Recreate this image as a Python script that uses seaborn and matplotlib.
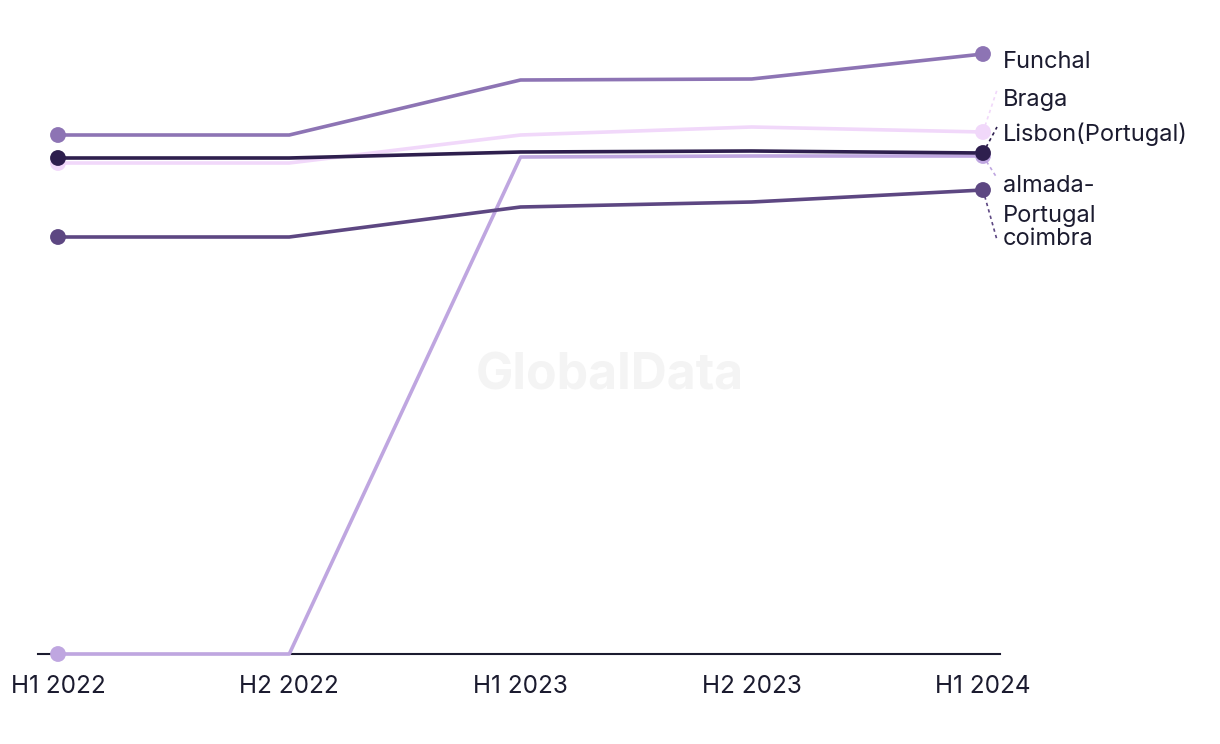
import matplotlib
matplotlib.use("Agg")
import matplotlib.pyplot as plt
import seaborn as sns
import pandas as pd

periods = ["H1 2022", "H2 2022", "H1 2023", "H2 2023", "H1 2024"]
funchal = [519, 519, 574, 575, 600]
braga = [491, 491, 519, 527, 522]
lisbon = [496, 496, 502, 503, 501]
almada = [0, 0, 497, 498, 498]
coimbra = [417, 417, 447, 452, 464]

series_names = ["Funchal", "Braga", "almada-\nPortugal", "coimbra", "Lisbon(Portugal)"]
series_values = [funchal, braga, almada, coimbra, lisbon]
colors = {
    "Funchal": "#8D74B4",
    "Braga": "#F1D8FA",
    "almada-\nPortugal": "#BFA6E0",
    "coimbra": "#5D4782",
    "Lisbon(Portugal)": "#2E1F4E",
}

rows = []
for name, vals in zip(series_names, series_values):
    for i, (p, v) in enumerate(zip(periods, vals)):
        rows.append({"series": name, "x": i, "period": p, "value": v})
df = pd.DataFrame(rows)

sns.set_theme(style="white")
plt.rcParams["font.family"] = ["Inter", "DejaVu Sans"]
text_color = "#1B1B2F"

fig = plt.figure(figsize=(12.2, 7.44), dpi=100)
ax = fig.add_axes([38 / 1220, 90 / 744, (1000 - 38) / 1220, 654 / 744])

for z, name in enumerate(series_names):
    sub = df[df["series"] == name]
    sns.lineplot(data=sub, x="x", y="value", color=colors[name], lw=2.6,
                 ax=ax, zorder=3 + z, legend=False, clip_on=False)
    ends = sub[sub["x"].isin([0, len(periods) - 1])]
    sns.scatterplot(data=ends, x="x", y="value", color=colors[name], s=130,
                    edgecolor="none", ax=ax, zorder=10 + z, legend=False, clip_on=False)

ax.set_xlim(-20 / 231.25, (1000 - 58) / 231.25)
ax.set_ylim(0, 654)
ax.set_xticks(range(len(periods)))
ax.set_xticklabels(periods, fontsize=17.5, color=text_color)
ax.tick_params(axis="x", length=0, pad=15)
ax.set_yticks([])
ax.set_xlabel("")
ax.set_ylabel("")
for s in ["top", "right", "left"]:
    ax.spines[s].set_visible(False)
ax.spines["bottom"].set_color(text_color)
ax.spines["bottom"].set_linewidth(1.5)
ax.spines["bottom"].set_zorder(2)

# end labels with dashed leaders (label positions in data units)
label_y = {
    "Funchal": 592,
    "Braga": 554,
    "Lisbon(Portugal)": 520,
    "almada-\nPortugal": 453,
    "coimbra": 415,
}
leader_end = {
    "Braga": 564,
    "Lisbon(Portugal)": 527,
    "almada-\nPortugal": 476,
    "coimbra": 414,
}
last = len(periods) - 1
label_x = last + 20 / 231.25
for name, vals in zip(series_names, series_values):
    ax.text(label_x, label_y[name], name, fontsize=17, color=text_color,
            va="center", ha="left", linespacing=1.5, clip_on=False)
    if name in leader_end:
        ax.plot([last, last + 14 / 231.25], [vals[-1], leader_end[name]],
                ls=(0, (2, 2)), lw=1.2, color=colors[name], clip_on=False, zorder=2)

fig.text(610 / 1220, 1 - 376 / 744, "GlobalData", fontsize=36, fontweight="bold",
         color="#F4F4F4", ha="center", va="center", zorder=0)

fig.savefig("out.png", dpi=100, facecolor="white")
